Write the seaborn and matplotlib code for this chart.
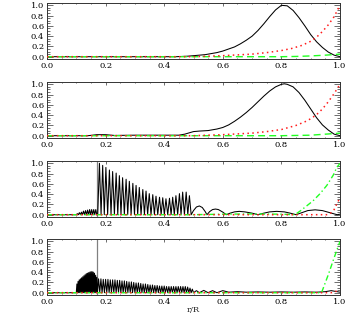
import numpy as np
import pandas as pd
import matplotlib
matplotlib.use("Agg")
import matplotlib.pyplot as plt
from matplotlib.ticker import MultipleLocator, FormatStrFormatter
import seaborn as sns

# ---------------- data ----------------
# Panel 1
p1_black_x = [0.0, 0.44, 0.46, 0.48, 0.50, 0.52, 0.54, 0.56, 0.58, 0.60, 0.62, 0.64, 0.66, 0.68, 0.70,
              0.72, 0.74, 0.76, 0.78, 0.80, 0.82, 0.84, 0.86, 0.88, 0.90, 0.92, 0.94, 0.96, 0.98, 1.00]
p1_black_y = [0.0, 0.0, 0.005, 0.01, 0.02, 0.03, 0.04, 0.06, 0.08, 0.11, 0.15, 0.19, 0.25, 0.32, 0.40,
              0.51, 0.64, 0.78, 0.91, 1.00, 0.99, 0.90, 0.76, 0.60, 0.43, 0.29, 0.18, 0.09, 0.03, 0.0]
p1_red_x = [0.0, 0.5, 0.6, 0.7, 0.75, 0.8, 0.835, 0.87, 0.9, 0.92, 0.94, 0.96, 0.98, 1.0]
p1_red_y = [0.0, 0.0, 0.02, 0.05, 0.08, 0.12, 0.16, 0.22, 0.30, 0.38, 0.49, 0.62, 0.78, 1.0]
p1_green_x = [0.0, 0.8, 0.85, 0.9, 0.95, 1.0]
p1_green_y = [0.0, 0.0, 0.005, 0.015, 0.03, 0.05]

# Panel 2
p2_black_x = [0.0, 0.14, 0.17, 0.20, 0.23, 0.30, 0.40, 0.45, 0.47, 0.50, 0.52, 0.55, 0.58, 0.60, 0.62,
              0.64, 0.66, 0.68, 0.70, 0.72, 0.74, 0.76, 0.78, 0.80, 0.81, 0.82, 0.84, 0.86, 0.88, 0.90,
              0.92, 0.94, 0.96, 0.98, 1.00]
p2_black_y = [0.0, 0.0, 0.02, 0.02, 0.005, 0.01, 0.01, 0.01, 0.03, 0.08, 0.09, 0.10, 0.13, 0.16, 0.21,
              0.28, 0.36, 0.45, 0.55, 0.66, 0.77, 0.87, 0.95, 1.00, 1.01, 1.00, 0.95, 0.84, 0.69, 0.52,
              0.35, 0.21, 0.11, 0.03, 0.0]
p2_red_x = [0.0, 0.5, 0.6, 0.7, 0.75, 0.8, 0.85, 0.88, 0.9, 0.92, 0.94, 0.96, 0.98, 1.0]
p2_red_y = [0.0, 0.0, 0.02, 0.05, 0.08, 0.12, 0.20, 0.27, 0.33, 0.41, 0.52, 0.66, 0.82, 1.0]
p2_green_x = [0.0, 0.8, 0.9, 0.95, 1.0]
p2_green_y = [0.0, 0.0, 0.01, 0.03, 0.05]

# Panel 3 (black oscillation: peaks + troughs)
p3_peak_x = [0.1035, 0.1105, 0.1175, 0.1245, 0.1315, 0.1385, 0.1455, 0.1525, 0.1595, 0.1665,
             0.179, 0.190, 0.201, 0.213, 0.224, 0.236, 0.247, 0.258, 0.270, 0.281, 0.293, 0.304,
             0.315, 0.327, 0.338, 0.349, 0.361, 0.372, 0.384, 0.395, 0.406, 0.418, 0.429, 0.440,
             0.452, 0.463, 0.475, 0.486]
p3_peak_y = [0.02, 0.04, 0.05, 0.07, 0.08, 0.09, 0.10, 0.10, 0.10, 0.10,
             1.00, 0.96, 0.92, 0.87, 0.84, 0.81, 0.76, 0.72, 0.69, 0.65, 0.61, 0.57,
             0.53, 0.49, 0.46, 0.41, 0.39, 0.36, 0.34, 0.33, 0.31, 0.32, 0.34, 0.37,
             0.41, 0.44, 0.44, 0.37]
p3_trough_x = [0.0, 0.100, 0.107, 0.114, 0.121, 0.128, 0.135, 0.142, 0.149, 0.156, 0.163, 0.1700,
               0.173, 0.1845, 0.1955, 0.207, 0.2185, 0.230, 0.2415, 0.2525, 0.264, 0.2755, 0.287,
               0.2985, 0.3095, 0.321, 0.3325, 0.3435, 0.355, 0.3665, 0.378, 0.3895, 0.4005, 0.412,
               0.4235, 0.4345, 0.446, 0.4575, 0.469, 0.4805, 0.492]
p3_tail_x = [0.50, 0.51, 0.52, 0.53, 0.54, 0.546, 0.555, 0.565, 0.575, 0.585, 0.60, 0.612, 0.625,
             0.64, 0.656, 0.675, 0.70, 0.72, 0.74, 0.76, 0.784, 0.81, 0.83, 0.85, 0.87, 0.89,
             0.915, 0.94, 0.965, 0.99, 1.0]
p3_tail_y = [0.08, 0.15, 0.17, 0.14, 0.06, 0.0, 0.06, 0.10, 0.11, 0.10, 0.05, 0.0, 0.03,
             0.055, 0.065, 0.055, 0.03, 0.0, 0.03, 0.055, 0.065, 0.055, 0.03, 0.0, 0.04, 0.08,
             0.095, 0.08, 0.04, 0.0, 0.01]
p3_red_x = [0.0, 0.96, 0.97, 0.98, 0.99, 1.0]
p3_red_y = [0.0, 0.0, 0.04, 0.10, 0.22, 0.33]
p3_green_x = [0.0, 0.5, 0.6, 0.7, 0.8, 0.846, 0.866, 0.886, 0.908, 0.932, 0.955, 0.977, 0.989, 1.0]
p3_green_y = [0.0, 0.0, 0.01, 0.015, 0.01, 0.0, 0.08, 0.17, 0.27, 0.41, 0.57, 0.77, 0.92, 1.0]

# Panel 4
p4_peak_x = [0.102, 0.106, 0.110, 0.114, 0.118, 0.122, 0.126, 0.130, 0.134, 0.138, 0.142, 0.146,
             0.150, 0.154, 0.158, 0.162, 0.166, 0.170,
             0.176, 0.184, 0.192, 0.200, 0.208, 0.216, 0.224, 0.232, 0.240, 0.248, 0.256, 0.264,
             0.272, 0.280, 0.288, 0.296, 0.304, 0.312, 0.320, 0.328, 0.336, 0.344, 0.352, 0.360,
             0.368, 0.376, 0.384, 0.392, 0.400, 0.408, 0.416, 0.424, 0.432, 0.440, 0.448, 0.456,
             0.464, 0.472, 0.480, 0.488, 0.496]
p4_peak_y = [0.17, 0.22, 0.25, 0.27, 0.29, 0.31, 0.33, 0.35, 0.37, 0.38, 0.39, 0.40,
             0.41, 0.41, 0.40, 0.38, 0.34, 0.30,
             0.27, 0.27, 0.26, 0.26, 0.26, 0.25, 0.25, 0.25, 0.24, 0.24, 0.23, 0.23,
             0.22, 0.21, 0.21, 0.20, 0.19, 0.19, 0.18, 0.17, 0.17, 0.16, 0.15, 0.15,
             0.14, 0.14, 0.13, 0.13, 0.13, 0.12, 0.12, 0.12, 0.12, 0.12, 0.12, 0.12,
             0.12, 0.12, 0.11, 0.09, 0.07]
p4_trough_x = [0.0, 0.100, 0.104, 0.108, 0.112, 0.116, 0.120, 0.124, 0.128, 0.132, 0.136, 0.140,
               0.144, 0.148, 0.152, 0.156, 0.160, 0.164, 0.168, 0.172,
               0.180, 0.188, 0.196, 0.204, 0.212, 0.220, 0.228, 0.236, 0.244, 0.252, 0.260,
               0.268, 0.276, 0.284, 0.292, 0.300, 0.308, 0.316, 0.324, 0.332, 0.340, 0.348,
               0.356, 0.364, 0.372, 0.380, 0.388, 0.396, 0.404, 0.412, 0.420, 0.428, 0.436,
               0.444, 0.452, 0.460, 0.468, 0.476, 0.484, 0.492, 0.500]
p4_tail_x = [0.51, 0.52, 0.535, 0.55, 0.565, 0.58, 0.60, 0.62, 0.65, 0.68, 0.72, 0.76, 0.80,
             0.84, 0.88, 0.92, 0.95, 0.97, 0.99, 1.0]
p4_tail_y = [0.04, 0.0, 0.045, 0.0, 0.04, 0.0, 0.04, 0.01, 0.02, 0.01, 0.015, 0.01, 0.015,
             0.01, 0.015, 0.01, 0.02, 0.04, 0.02, 0.01]
p4_red_x = [0.0, 0.97, 1.0]
p4_red_y = [0.0, 0.0, 0.05]
p4_green_x = [0.0, 0.937, 0.96, 0.98, 1.0]
p4_green_y = [0.0, 0.0, 0.35, 0.68, 1.0]

spike_x = 0.17          # grey vertical line in panels 3 and 4
tick_values = [0.0, 0.2, 0.4, 0.6, 0.8, 1.0]
x_label = "r/R"

# ---------------- styling ----------------
sns.set_style("ticks")
plt.rcParams["font.family"] = ["DejaVu Serif"]
plt.rcParams["font.size"] = 6

BLACK = "#000000"
RED = "#ff1a1a"
GREEN = "#22ff22"
DOTTED = (0, (1.0, 2.2))
DASHED = (0, (5, 3))
DASHDOT = (0, (4, 2, 1, 2))


def osc(peak_x, peak_y, trough_x, tail_x, tail_y):
    df = pd.concat([
        pd.DataFrame({"x": peak_x, "y": peak_y}),
        pd.DataFrame({"x": trough_x, "y": [0.0] * len(trough_x)}),
        pd.DataFrame({"x": tail_x, "y": tail_y}),
    ]).sort_values("x")
    return df


panels = [
    dict(black=pd.DataFrame({"x": p1_black_x, "y": p1_black_y}),
         red=(p1_red_x, p1_red_y), green=(p1_green_x, p1_green_y), gstyle=DASHED, spike=False),
    dict(black=pd.DataFrame({"x": p2_black_x, "y": p2_black_y}),
         red=(p2_red_x, p2_red_y), green=(p2_green_x, p2_green_y), gstyle=DASHED, spike=False),
    dict(black=osc(p3_peak_x, p3_peak_y, p3_trough_x, p3_tail_x, p3_tail_y),
         red=(p3_red_x, p3_red_y), green=(p3_green_x, p3_green_y), gstyle=DASHDOT, spike=True),
    dict(black=osc(p4_peak_x, p4_peak_y, p4_trough_x, p4_tail_x, p4_tail_y),
         red=(p4_red_x, p4_red_y), green=(p4_green_x, p4_green_y), gstyle=DASHDOT, spike=True),
]

fig = plt.figure(figsize=(3.54, 3.14), dpi=100)
W, H = 354.0, 314.0
left_px, width_px = 47.0, 293.0
tops_px = [3.0, 82.0, 161.0, 239.0]
height_px = 55.5

for i, (p, top) in enumerate(zip(panels, tops_px)):
    ax = fig.add_axes([left_px / W, 1 - (top + height_px) / H, width_px / W, height_px / H])
    if p["spike"]:
        ax.axvline(spike_x, color="#808080", lw=0.9, zorder=1)
    sns.lineplot(data=p["black"], x="x", y="y", ax=ax, color=BLACK, lw=0.75,
                 estimator=None, sort=False, zorder=3)
    sns.lineplot(x=p["green"][0], y=p["green"][1], ax=ax, color=GREEN, lw=1.0,
                 linestyle=p["gstyle"], estimator=None, sort=False, zorder=4)
    sns.lineplot(x=p["red"][0], y=p["red"][1], ax=ax, color=RED, lw=1.1,
                 linestyle=DOTTED, estimator=None, sort=False, zorder=5)
    ax.set_xlim(0, 1)
    ax.set_ylim(-0.035, 1.045)
    ax.xaxis.set_minor_locator(MultipleLocator(0.05))
    ax.yaxis.set_minor_locator(MultipleLocator(0.05))
    ax.set_xticks(tick_values)
    ax.set_yticks(tick_values)
    ax.xaxis.set_major_formatter(FormatStrFormatter("%.1f"))
    ax.yaxis.set_major_formatter(FormatStrFormatter("%.1f"))
    ax.tick_params(which="both", direction="in", top=True, right=True,
                   labeltop=False, labelright=False, width=0.5, colors="#333333",
                   labelcolor="black", labelsize=6)
    ax.tick_params(axis="x", which="major", length=2.0, pad=2.5)
    ax.tick_params(axis="x", which="minor", length=1.0)
    ax.tick_params(axis="y", which="major", length=4.0, pad=2)
    ax.tick_params(axis="y", which="minor", length=2.0)
    for s in ax.spines.values():
        s.set_color("#333333")
        s.set_linewidth(0.7)
    ax.set_ylabel("")
    if i == 3:
        ax.set_xlabel(x_label, labelpad=0.2, fontsize=6)
    else:
        ax.set_xlabel("")

fig.savefig("out.png", dpi=100)
